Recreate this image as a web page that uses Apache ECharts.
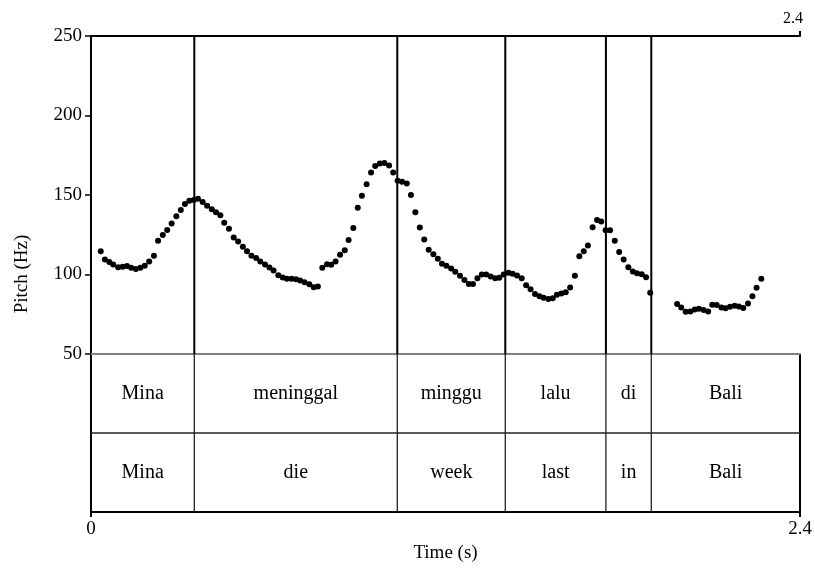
<!DOCTYPE html>
<html>
<head>
<meta charset="utf-8">
<script src="https://cdn.jsdelivr.net/npm/echarts@6/dist/echarts.min.js"></script>
<style>html,body{margin:0;padding:0;background:#fff}#chart{width:815px;height:569px}</style>
</head>
<body>
<div id="chart"></div>
<script>
// pitch track (s, Hz)
var pitchTimes = [
  0.033,0.047,0.062,0.075,0.092,0.107,0.122,0.136,0.152,0.167,0.182,0.197,0.213,0.227,0.243,0.258,0.273,0.289,0.304,0.318,
  0.333,0.348,0.362,0.378,0.393,0.409,0.423,0.438,0.451,0.467,0.483,0.498,0.514,0.528,0.543,0.559,0.573,0.589,0.604,0.618,
  0.634,0.649,0.663,0.679,0.694,0.708,0.723,0.739,0.754,0.768,
  0.783,0.799,0.813,0.828,0.843,0.859,0.872,0.888,0.903,0.917,0.933,0.948,0.962,0.978,0.993,1.009,1.023,1.038,1.053,1.069,
  1.083,1.098,1.113,1.128,1.143,1.159,1.174,1.188,1.203,1.219,1.233,1.249,1.264,1.279,1.293,1.308,1.323,1.338,1.353,1.368,
  1.382,1.397,1.413,1.427,1.442,1.458,1.473,1.488,1.503,1.518,1.532,1.548,1.563,1.577,1.592,1.607,1.622,1.638,1.653,1.668,
  1.682,1.698,1.713,1.727,1.742,1.757,1.773,1.788,1.803,1.819,1.834,1.848,1.864,1.879,1.893,
  1.984,1.998,2.013,2.029,2.044,2.058,2.074,2.089,2.103,2.118,2.134,2.148,2.163,2.179,2.193,2.208,2.224,2.239,2.253,2.269
];
var pitchHz = [
  114.7,109.5,107.8,106.3,104.6,104.9,105.3,104.2,103.4,104.2,105.5,108.2,111.8,121.3,124.9,128.0,132.1,136.7,140.5,144.3,
  146.4,146.8,147.7,145.6,143.2,141.1,139.2,137.3,132.5,128.7,123.2,120.7,117.5,114.7,111.8,110.3,108.2,106.3,104.4,102.5,
  99.6,98.1,97.3,97.3,97.0,96.2,95.1,93.9,92.0,92.4,
  104.2,106.5,106.1,108.2,112.5,115.2,121.7,129.3,142.0,149.6,156.8,164.1,168.2,169.8,170.1,168.5,164.1,158.9,158.4,157.2,
  150.0,139.1,129.6,122.0,115.6,112.7,109.9,106.8,105.5,103.8,101.7,99.2,96.6,94.1,94.1,97.7,100.0,100.0,98.7,97.7,
  97.9,100.0,101.1,100.4,99.4,97.7,93.2,90.7,87.8,86.3,85.4,84.6,85.0,87.3,88.0,88.8,91.8,99.2,111.4,114.7,
  118.2,129.7,134.2,133.3,127.8,127.8,121.3,114.1,109.5,104.6,101.9,100.8,100.2,98.3,88.6,
  81.4,79.3,76.6,76.8,78.0,78.5,77.7,76.8,81.0,80.8,79.3,78.7,79.7,80.4,79.9,78.9,81.8,86.3,91.6,97.3
];

// word boundaries (s) and the two annotation tiers
var boundaries = [0, 0.3497, 1.0368, 1.4024, 1.743, 1.8966, 2.4];
var tier1Words = ['Mina', 'meninggal', 'minggu', 'lalu', 'di', 'Bali'];
var tier2Words = ['Mina', 'die', 'week', 'last', 'in', 'Bali'];
var pitchTicks = [50, 100, 150, 200, 250];

var FONT = 'Liberation Serif, Times New Roman, serif';

var points = [];
for (var i = 0; i < pitchTimes.length; i++) {
  points.push([pitchTimes[i], pitchHz[i]]);
}
var inner = boundaries.slice(1, boundaries.length - 1).map(function (t) { return [t, 50]; });
var tierItems = [];
for (var j = 0; j < tier1Words.length; j++) {
  tierItems.push({ start: boundaries[j], end: boundaries[j + 1], row: 1.5, text: tier1Words[j] });
  tierItems.push({ start: boundaries[j], end: boundaries[j + 1], row: 0.5, text: tier2Words[j] });
}

var chart = echarts.init(document.getElementById('chart'), null, { renderer: 'canvas' });

var option = {
  animation: false,
  backgroundColor: '#fff',
  textStyle: { fontFamily: FONT, color: '#000' },
  grid: [
    { left: 91, top: 36, width: 709, height: 318 },
    { left: 91, top: 354, width: 709, height: 158 }
  ],
  xAxis: [
    { // pitch bottom (grey line at 50 Hz)
      gridIndex: 0, type: 'value', min: 0, max: 2.4, position: 'bottom',
      axisLine: { lineStyle: { color: '#808080', width: 2 } },
      axisTick: { show: false }, axisLabel: { show: false }, splitLine: { show: false }
    },
    { // top frame
      gridIndex: 0, type: 'value', min: 0, max: 2.4, interval: 2.4, position: 'top',
      axisLine: { lineStyle: { color: '#000', width: 2 } },
      axisTick: { show: true, customValues: [2.4], length: 5, lineStyle: { color: '#000', width: 2 } },
      axisLabel: { customValues: [2.4], fontFamily: FONT, fontSize: 16, color: '#000', margin: 9, padding: [0, 14, 0, 0] },
      splitLine: { show: false }
    },
    { // time axis
      gridIndex: 1, type: 'value', min: 0, max: 2.4, interval: 2.4, position: 'bottom',
      name: 'Time (s)', nameLocation: 'middle', nameGap: 32,
      nameTextStyle: { fontFamily: FONT, fontSize: 19, color: '#000' },
      axisLine: { lineStyle: { color: '#000', width: 2 } },
      axisTick: { show: true, customValues: [0, 2.4], length: 5, lineStyle: { color: '#000', width: 2 } },
      axisLabel: { customValues: [0, 2.4], fontFamily: FONT, fontSize: 19, color: '#000', margin: 8 },
      splitLine: { show: false }
    }
  ],
  yAxis: [
    {
      gridIndex: 0, type: 'value', min: 50, max: 250, interval: 50,
      axisLine: { show: true, lineStyle: { color: '#000', width: 2 } },
      axisTick: { show: true, length: 6, lineStyle: { color: '#000', width: 1.5 } },
      axisLabel: { fontFamily: FONT, fontSize: 19, color: '#000', margin: 9 },
      splitLine: { show: false }
    },
    {
      gridIndex: 1, type: 'value', min: 0, max: 2, interval: 1,
      axisLine: { show: true, lineStyle: { color: '#000', width: 2 } },
      axisTick: { show: false }, axisLabel: { show: false }, splitLine: { show: false }
    },
    {
      gridIndex: 0, type: 'value', min: 50, max: 250, position: 'right',
      axisLine: { show: true, lineStyle: { color: '#000', width: 2 } },
      axisTick: { show: false }, axisLabel: { show: false }, splitLine: { show: false }
    },
    {
      gridIndex: 1, type: 'value', min: 0, max: 2, position: 'right',
      axisLine: { show: true, lineStyle: { color: '#000', width: 2 } },
      axisTick: { show: false }, axisLabel: { show: false }, splitLine: { show: false }
    }
  ],
  graphic: [
    {
      type: 'text', x: 22, y: 274, rotation: Math.PI / 2,
      style: { text: 'Pitch (Hz)', fontFamily: FONT, fontSize: 19, fill: '#000', align: 'center', verticalAlign: 'middle' }
    }
  ],
  series: [
    {
      name: 'boundaries-pitch', type: 'custom', xAxisIndex: 0, yAxisIndex: 0, z: 3,
      data: inner,
      renderItem: function (params, api) {
        var t = api.value(0);
        var a = api.coord([t, 250]);
        var b = api.coord([t, 50]);
        return { type: 'line', shape: { x1: a[0], y1: a[1], x2: b[0], y2: b[1] }, style: { stroke: '#000', lineWidth: 2 } };
      }
    },
    {
      name: 'boundaries-tiers', type: 'custom', xAxisIndex: 2, yAxisIndex: 1, z: 3,
      data: inner.map(function (d) { return [d[0], 0]; }),
      renderItem: function (params, api) {
        var t = api.value(0);
        var a = api.coord([t, 2]);
        var b = api.coord([t, 0]);
        return { type: 'line', shape: { x1: a[0], y1: a[1], x2: b[0], y2: b[1] }, style: { stroke: '#222', lineWidth: 1.3 } };
      }
    },
    {
      name: 'tier-rule', type: 'custom', xAxisIndex: 2, yAxisIndex: 1, z: 3,
      data: [[0, 1]],
      renderItem: function (params, api) {
        var a = api.coord([0, api.value(1)]);
        var b = api.coord([2.4, api.value(1)]);
        return { type: 'line', shape: { x1: a[0], y1: a[1], x2: b[0], y2: b[1] }, style: { stroke: '#222', lineWidth: 1.3 } };
      }
    },
    {
      name: 'tier-text', type: 'custom', xAxisIndex: 2, yAxisIndex: 1, z: 4,
      data: tierItems.map(function (d) { return [d.start, d.row, d.end]; }),
      renderItem: function (params, api) {
        var it = tierItems[params.dataIndex];
        var p = api.coord([(api.value(0) + api.value(2)) / 2, api.value(1)]);
        return {
          type: 'text', x: p[0], y: p[1],
          style: { text: it.text, fontFamily: FONT, fontSize: 20, fill: '#000', align: 'center', verticalAlign: 'middle' }
        };
      }
    },
    {
      name: 'Pitch', type: 'scatter', xAxisIndex: 0, yAxisIndex: 0, z: 5,
      symbol: 'circle', symbolSize: 6,
      itemStyle: { color: '#000', opacity: 1 },
      data: points
    }
  ]
};

chart.setOption(option);
</script>
</body>
</html>
